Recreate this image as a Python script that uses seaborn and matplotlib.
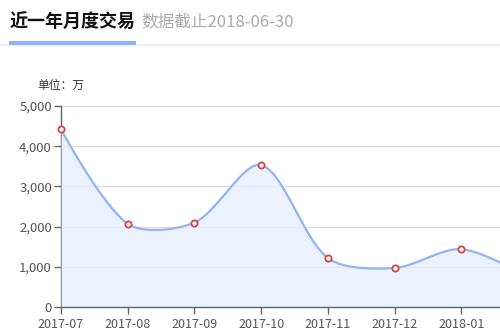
import numpy as np
import pandas as pd
import matplotlib
matplotlib.use("Agg")
import matplotlib.pyplot as plt
import seaborn as sns
from matplotlib.patches import Rectangle

# Monthly trading volume (unit: 万)
months = ["2017-07", "2017-08", "2017-09", "2017-10", "2017-11", "2017-12", "2018-01", "2018-02"]
volumes = [4420, 2070, 2100, 3530, 1220, 970, 1440, 750]
y_ticks = [0, 1000, 2000, 3000, 4000, 5000]

title = "近一年月度交易"
subtitle = "数据截止2018-06-30"
unit_label = "单位：万"

sns.set_theme(style="white")
plt.rcParams["font.family"] = ["Noto Sans CJK SC", "DejaVu Sans"]

W, H = 500, 331
fig = plt.figure(figsize=(W / 100, H / 100), dpi=100)
fig.patch.set_facecolor("white")

# the plot area runs past the right edge of the canvas
ax = fig.add_axes([61 / W, 24 / H, 467 / W, 201 / H])
ax.set_facecolor("none")


def smooth_curve(xs, ys, sx, sy, smooth=0.3, n=40):
    """Bezier smoothing of a polyline; control points follow neighbour vectors."""
    pts = np.column_stack([np.asarray(xs, float) * sx, np.asarray(ys, float) * sy])
    lo, hi = pts.min(0), pts.max(0)
    out = [pts[0:1]]
    cp0 = pts[0].copy()
    for i in range(1, len(pts)):
        p = pts[i]
        prev = pts[i - 1]
        v = None
        r = 0.5
        if i == len(pts) - 1:
            cp1 = p.copy()
        else:
            nxt = pts[i + 1]
            v = nxt - prev
            dp = np.linalg.norm(p - prev)
            dn = np.linalg.norm(nxt - p)
            r = dn / (dn + dp)
            cp1 = p - v * smooth * (1 - r)
        c0 = np.clip(cp0, lo, hi)
        c1 = np.clip(cp1, lo, hi)
        t = np.linspace(0, 1, n)[1:, None]
        seg = ((1 - t) ** 3) * prev + 3 * ((1 - t) ** 2) * t * c0 \
            + 3 * (1 - t) * t ** 2 * c1 + t ** 3 * p
        out.append(seg)
        if v is not None:
            cp0 = p + v * smooth * r
    c = np.vstack(out)
    return c[:, 0] / sx, c[:, 1] / sy


xpos = np.arange(len(months))
px_per_month = 467 / 7
px_per_unit = 201 / 5000
cx, cy = smooth_curve(xpos, volumes, px_per_month, px_per_unit)

ax.fill_between(cx, cy, 0, color="#e8effd", alpha=0.8, lw=0, zorder=3)
sns.lineplot(x=cx, y=cy, sort=False, ax=ax, color="#93b3f7", lw=1.6, zorder=4)

df = pd.DataFrame({"x": xpos, "v": volumes})
sns.scatterplot(data=df, x="x", y="v", ax=ax, s=20, facecolor="white",
                edgecolor="#d9413f", linewidth=1.3, zorder=6, clip_on=False)

ax.set_xlim(0, 7)
ax.set_ylim(0, 5000)
ax.set_xticks(xpos[:-1])
ax.set_xticklabels(months[:-1])
ax.set_yticks(y_ticks)
ax.set_yticklabels([f"{v:,}" for v in y_ticks])
ax.set_xlabel("")
ax.set_ylabel("")

ax.yaxis.grid(True, color="#dcdcdc", lw=0.9)
ax.xaxis.grid(False)
ax.set_axisbelow(True)
for s in ["top", "right"]:
    ax.spines[s].set_visible(False)
for s in ["left", "bottom"]:
    ax.spines[s].set_color("#666666")
    ax.spines[s].set_linewidth(1.0)
ax.spines["left"].set_zorder(2)
ax.spines["bottom"].set_zorder(5)

ax.tick_params(axis="both", which="both", length=5, width=1, color="#666666",
               labelcolor="#555555", direction="out", left=True, bottom=True)
ax.tick_params(axis="y", labelsize=9.5, pad=1.5)
ax.tick_params(axis="x", labelsize=9, pad=3)

# header
fig.text(10 / W, 1 - 22 / H, title, fontsize=13, fontweight="bold",
         color="#111111", va="center", ha="left")
fig.text(141 / W, 1 - 22 / H, subtitle, fontsize=12, color="#aaaaaa",
         va="center", ha="left")
fig.add_artist(Rectangle((0, 1 - 46 / H), 1, 2 / H, transform=fig.transFigure,
                         facecolor="#efefef", edgecolor="none"))
fig.add_artist(Rectangle((9 / W, 1 - 45 / H), 127 / W, 4 / H, transform=fig.transFigure,
                         facecolor="#8fb0f8", edgecolor="none"))

fig.text(37 / W, 1 - 85 / H, unit_label, fontsize=8.5, color="#333333",
         va="center", ha="left")

fig.savefig("out.png", dpi=100)
